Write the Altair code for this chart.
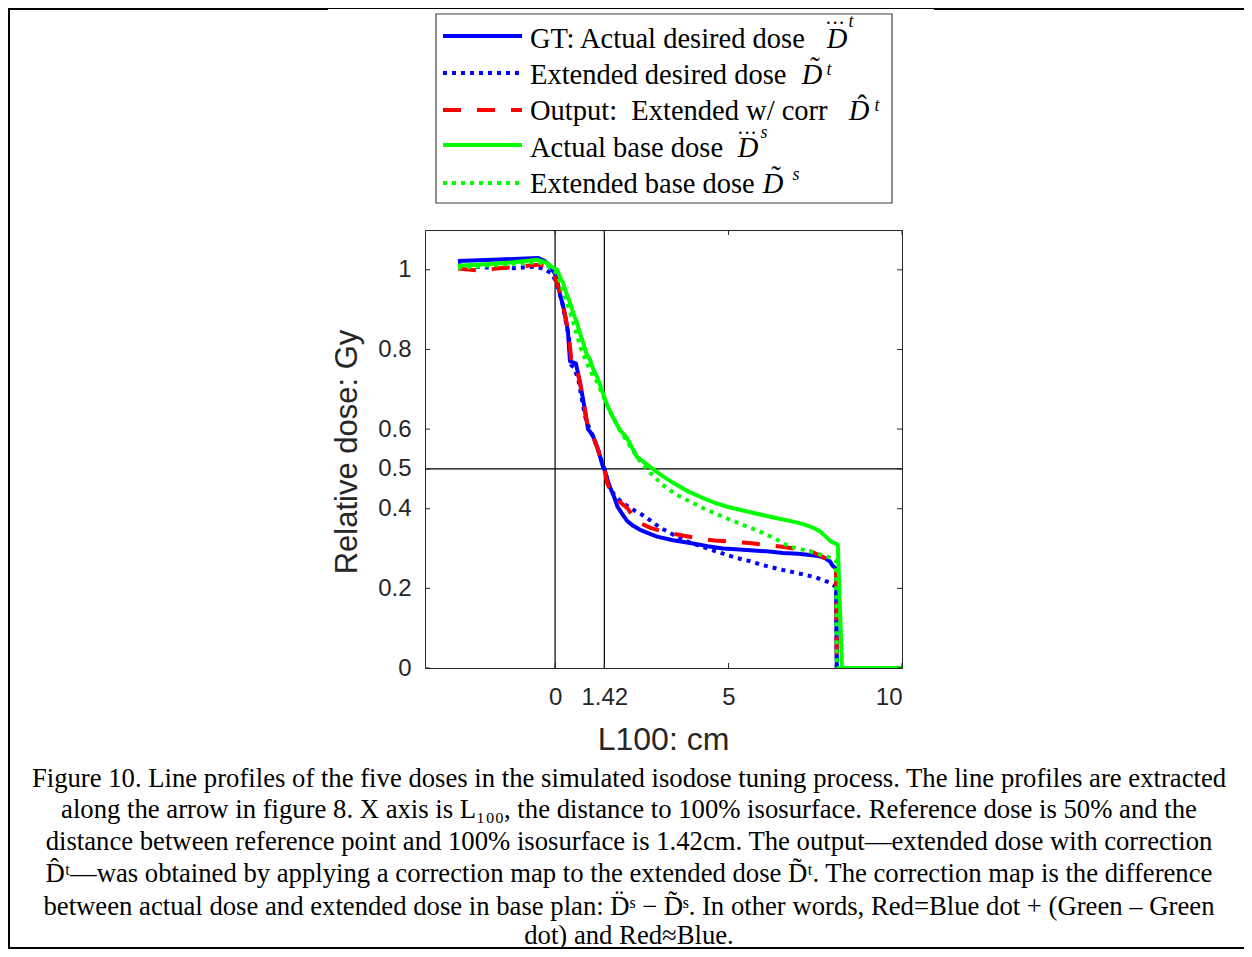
import altair as alt
import pandas as pd

# ---------------- data ----------------
gt_x = [-2.80, -2.2, -1.6, -1.0, -0.5, -0.3, -0.15, 0.0, 0.08, 0.15, 0.23, 0.30, 0.37, 0.43, 0.60, 0.72, 0.81,
        0.95, 1.08, 1.24, 1.38, 1.42, 1.52, 1.60, 1.70, 1.80, 1.95, 2.07, 2.25, 2.45, 2.70, 2.94, 3.4, 3.89,
        4.4, 4.84, 5.2, 5.62, 6.1, 6.57, 7.0, 7.35, 7.6, 7.78, 7.92, 8.01, 8.10, 8.12, 10.0]
gt_y = [1.022, 1.024, 1.026, 1.028, 1.030, 1.022, 1.010, 0.990, 0.965, 0.935, 0.910, 0.880, 0.845, 0.770,
        0.765, 0.716, 0.673, 0.600, 0.585, 0.548, 0.505, 0.500, 0.470, 0.450, 0.430, 0.405, 0.385, 0.370,
        0.357, 0.347, 0.338, 0.330, 0.321, 0.314, 0.306, 0.300, 0.298, 0.296, 0.293, 0.289, 0.287, 0.284,
        0.281, 0.276, 0.268, 0.256, 0.250, 0.0, 0.0]

ext_x = [-2.8, -2.0, -1.2, -0.6, -0.3, -0.1, 0.0, 0.1, 0.2, 0.3, 0.4, 0.47, 0.55, 0.68, 0.8, 0.9, 1.0, 1.12,
         1.25, 1.42, 1.55, 1.7, 1.9, 2.2, 2.6, 3.0, 3.4, 3.89, 4.4, 4.84, 5.2, 5.62, 6.0, 6.57, 7.0, 7.5, 7.9,
         8.1, 8.12, 10.0]
ext_y = [1.012, 1.006, 1.004, 1.008, 1.002, 0.99, 0.975, 0.95, 0.92, 0.875, 0.83, 0.76, 0.755, 0.72, 0.66,
         0.62, 0.60, 0.575, 0.545, 0.50, 0.46, 0.435, 0.418, 0.40, 0.38, 0.354, 0.335, 0.315, 0.30, 0.287,
         0.277, 0.268, 0.258, 0.246, 0.238, 0.228, 0.215, 0.204, 0.0, 0.0]

out_x = [-2.8, -2.2, -1.6, -1.0, -0.5, -0.25, -0.1, 0.0, 0.1, 0.2, 0.3, 0.4, 0.47, 0.6, 0.72, 0.82, 0.95,
         1.08, 1.24, 1.38, 1.42, 1.5, 1.65, 1.87, 2.1, 2.3, 2.45, 2.75, 3.2, 3.6, 4.1, 4.6, 5.1, 5.6, 6.1,
         6.6, 7.0, 7.4, 7.7, 7.9, 8.05, 8.1, 8.12, 10.0]
out_y = [1.003, 0.998, 1.004, 1.008, 1.013, 1.010, 1.0, 0.98, 0.955, 0.925, 0.88, 0.835, 0.77, 0.762, 0.715,
         0.67, 0.60, 0.585, 0.548, 0.505, 0.50, 0.465, 0.435, 0.417, 0.40, 0.372, 0.364, 0.352, 0.34, 0.334,
         0.326, 0.32, 0.317, 0.314, 0.309, 0.304, 0.298, 0.292, 0.28, 0.27, 0.262, 0.26, 0.0, 0.0]

base_x = [-2.8, -2.0, -1.2, -0.5, -0.25, -0.05, 0.06, 0.15, 0.23, 0.33, 0.43, 0.53, 0.63, 0.72, 0.81, 0.9,
          1.01, 1.1, 1.21, 1.3, 1.38, 1.5, 1.67, 1.85, 2.07, 2.36, 2.74, 3.05, 3.4, 3.8, 4.18, 4.6, 4.96,
          5.45, 5.94, 6.4, 6.9, 7.2, 7.45, 7.65, 7.8, 7.95, 8.15, 8.27, 10.0]
base_y = [1.010, 1.014, 1.019, 1.025, 1.018, 1.005, 1.0, 0.98, 0.967, 0.94, 0.917, 0.89, 0.867, 0.84, 0.817,
          0.79, 0.774, 0.75, 0.731, 0.71, 0.69, 0.66, 0.63, 0.60, 0.578, 0.53, 0.505, 0.485, 0.465, 0.445,
          0.43, 0.415, 0.405, 0.395, 0.385, 0.376, 0.367, 0.36, 0.352, 0.342, 0.33, 0.318, 0.31, 0.0, 0.0]

bext_x = [-2.8, -2.0, -1.2, -0.5, -0.25, -0.05, 0.06, 0.2, 0.35, 0.5, 0.62, 0.75, 0.9, 1.05, 1.2, 1.4, 1.6,
          1.85, 2.1, 2.4, 2.74, 3.1, 3.5, 3.89, 4.3, 4.84, 5.4, 6.0, 6.4, 6.75, 7.1, 7.5, 7.9, 8.1, 8.12, 10.0]
bext_y = [1.005, 1.010, 1.015, 1.020, 1.012, 1.0, 0.99, 0.955, 0.915, 0.875, 0.84, 0.80, 0.77, 0.74, 0.72,
          0.68, 0.64, 0.60, 0.565, 0.525, 0.49, 0.46, 0.435, 0.418, 0.40, 0.38, 0.36, 0.339, 0.322, 0.305,
          0.298, 0.289, 0.278, 0.27, 0.0, 0.0]

x_ticks = [0, 1.42, 5, 10]
y_ticks = [0, 0.2, 0.4, 0.5, 0.6, 0.8, 1]
vlines = [0, 1.42]
hlines = [0.5]

legend_labels = ["GT: Actual desired dose", "Extended desired dose", "Output:\u00a0 Extended w/ corr",
                 "Actual base dose", "Extended base dose"]
caption_lines = [
    "Figure 10. Line profiles of the five doses in the simulated isodose tuning process. The line profiles are extracted",
    "along the arrow in figure 8. X axis is L\u2081\u2080\u2080, the distance to 100% isosurface. Reference dose is 50% and the",
    "distance between reference point and 100% isosurface is 1.42cm. The output\u2014extended dose with correction",
    "D\u0302\u1d57\u2014was obtained by applying a correction map to the extended dose D\u0303\u1d57. The correction map is the difference",
    "between actual dose and extended dose in base plan: D\u0308\u02e2 \u2212 D\u0303\u02e2. In other words, Red=Blue dot + (Green \u2013 Green",
    "dot) and Red\u2248Blue.",
]

# ---------------- layout constants (pixels, relative to plot area) ----------------
W, H = 477, 438
PAD = {"left": 417, "top": 222, "right": 342, "bottom": 281}
BLUE, RED, GREEN = "#0000ff", "#ff0000", "#00ff00"
INK = "#262626"

xs = alt.Scale(domain=[-3.75, 10], nice=False, zero=False)
ys = alt.Scale(domain=[0, 1.1], nice=False, zero=False)
XA = alt.Axis(values=x_ticks, labelExpr="format(datum.value, '~g')", labelBaseline="middle",
              labelPadding=29, title=None)
YA = alt.Axis(values=y_ticks, labelExpr="format(datum.value, '~g')", labelPadding=14, title=None)
one = pd.DataFrame({"a": [0]})


def X(field="x"):
    return alt.X(f"{field}:Q", scale=xs, axis=XA)


def Y(field="y"):
    return alt.Y(f"{field}:Q", scale=ys, axis=YA)


def series(xv, yv, color, dash=None, width=4):
    df = pd.DataFrame({"x": xv, "y": yv, "i": list(range(len(xv)))})
    kw = dict(color=color, strokeWidth=width, clip=True, strokeCap="butt", strokeJoin="round")
    if dash:
        kw["strokeDash"] = dash
    return alt.Chart(df).mark_line(**kw).encode(x=X(), y=Y(), order="i:Q")


DOT = [4, 5]
DASH = [18, 16]

lines = [
    series(gt_x, gt_y, BLUE),
    series(ext_x, ext_y, BLUE, DOT),
    series(out_x, out_y, RED, DASH),
    series(base_x, base_y, GREEN),
    series(bext_x, bext_y, GREEN, DOT),
]

# reference lines
vl = alt.Chart(pd.DataFrame({"x": vlines})).mark_rule(color="black", strokeWidth=1.2).encode(
    x=X(), y=alt.value(0), y2=alt.value(H))
hl = alt.Chart(pd.DataFrame({"y": hlines})).mark_rule(color="black", strokeWidth=1.2).encode(
    y=Y(), x=alt.value(0), x2=alt.value(W))

# inward tick marks on all four sides
ytk = pd.DataFrame({"y": y_ticks})
xtk = pd.DataFrame({"x": x_ticks})
ticks = [
    alt.Chart(ytk).mark_rule(color=INK, strokeWidth=1).encode(y=Y(), x=alt.value(0), x2=alt.value(5)),
    alt.Chart(ytk).mark_rule(color=INK, strokeWidth=1).encode(y=Y(), x=alt.value(W - 5), x2=alt.value(W)),
    alt.Chart(xtk).mark_rule(color=INK, strokeWidth=1).encode(x=X(), y=alt.value(H - 5), y2=alt.value(H)),
    alt.Chart(xtk).mark_rule(color=INK, strokeWidth=1).encode(x=X(), y=alt.value(0), y2=alt.value(5)),
]

# axis titles
ytitle = alt.Chart(one).mark_text(font="Liberation Sans", fontSize=31, color=INK, angle=270,
                                  align="center", baseline="middle").encode(
    x=alt.value(-77), y=alt.value(H / 2 + 3), text=alt.value("Relative dose: Gy"))
xtitle = alt.Chart(one).mark_text(font="Liberation Sans", fontSize=32, color=INK,
                                  align="center", baseline="middle").encode(
    x=alt.value(W / 2), y=alt.value(510), text=alt.value("L100: cm"))

# ---------------- legend ----------------
legend = [alt.Chart(one).mark_rect(fill="white", stroke="#404040", strokeWidth=1.2).encode(
    x=alt.value(11), x2=alt.value(467), y=alt.value(-216), y2=alt.value(-27))]

row_line_y = [-194, -157, -120, -85, -47]
row_base = [-182, -146, -110, -73, -37]
styles = [(BLUE, None), (BLUE, DOT), (RED, DASH), (GREEN, None), (GREEN, DOT)]
for ly, (c, d) in zip(row_line_y, styles):
    kw = dict(color=c, strokeWidth=4, strokeCap="butt")
    if d:
        kw["strokeDash"] = d
    legend.append(alt.Chart(one).mark_rule(**kw).encode(
        x=alt.value(18), x2=alt.value(97), y=alt.value(ly)))

SERIF = "Liberation Serif"
LFS = 28.5
for lab, by in zip(legend_labels, row_base):
    legend.append(alt.Chart(one).mark_text(font=SERIF, fontSize=LFS, color="black", align="left",
                                           baseline="alphabetic").encode(
        x=alt.value(105), y=alt.value(by), text=alt.value(lab)))

# math symbols: (D centre x, accent, accent x, accent baseline, sup, sup x, sup baseline)
DOTS = "\u00b7\u00b7\u00b7"
math = [
    (412, DOTS, 410, -200, "t", 426, -203),
    (387, "\u02dc", 390, -153, "t", 404, -155),
    (434, "\u02c6", 437, -115, "t", 452, -119),
    (323, DOTS, 322, -90, "s", 339, -92),
    (348, "\u02dc", 351, -44, "s", 371, -50),
]
for (dx, acc, ax, ay, sup, sx, sy), by in zip(math, row_base):
    legend.append(alt.Chart(one).mark_text(font=SERIF, fontSize=LFS, fontStyle="italic", color="black",
                                           align="center", baseline="alphabetic").encode(
        x=alt.value(dx), y=alt.value(by), text=alt.value("D")))
    legend.append(alt.Chart(one).mark_text(font=SERIF, fontSize=20 if acc == DOTS else LFS,
                                           color="black", align="center", baseline="alphabetic").encode(
        x=alt.value(ax), y=alt.value(ay), text=alt.value(acc)))
    legend.append(alt.Chart(one).mark_text(font=SERIF, fontSize=18, fontStyle="italic", color="black",
                                           align="center", baseline="alphabetic").encode(
        x=alt.value(sx), y=alt.value(sy), text=alt.value(sup)))

# ---------------- caption ----------------
cap_y = [549, 580, 612, 644, 677, 706]
caption = [alt.Chart(one).mark_text(font="Liberation Serif", fontSize=26.7, color="black", align="center",
                                    baseline="middle").encode(
    x=alt.value(204), y=alt.value(cy), text=alt.value(t)) for t, cy in zip(caption_lines, cap_y)]

# page frame lines
frame = [
    alt.Chart(one).mark_rule(color="black", strokeWidth=2).encode(
        x=alt.value(-416), y=alt.value(-221), y2=alt.value(718)),
    alt.Chart(one).mark_rule(color="black", strokeWidth=2).encode(
        x=alt.value(-417), x2=alt.value(819), y=alt.value(718)),
    alt.Chart(one).mark_rule(color="black", strokeWidth=2).encode(
        x=alt.value(-417), x2=alt.value(-97), y=alt.value(-221)),
    alt.Chart(one).mark_rule(color="black", strokeWidth=1).encode(
        x=alt.value(-97), x2=alt.value(509), y=alt.value(-221.5)),
    alt.Chart(one).mark_rule(color="black", strokeWidth=2).encode(
        x=alt.value(509), x2=alt.value(819), y=alt.value(-221)),
]

chart = alt.layer(
    vl, hl, *lines, *ticks, ytitle, xtitle, *legend, *caption, *frame
).properties(
    width=W, height=H, padding=PAD, autosize=alt.AutoSizeParams(type="none"), background="white"
).configure_view(
    stroke=INK, strokeWidth=1
).configure_axis(
    domain=False, ticks=False, tickSize=0, grid=False, labelFont="Liberation Sans",
    labelFontSize=24, labelColor=INK
)

chart.save("out.html", embed_options={"renderer": "svg", "actions": False})
